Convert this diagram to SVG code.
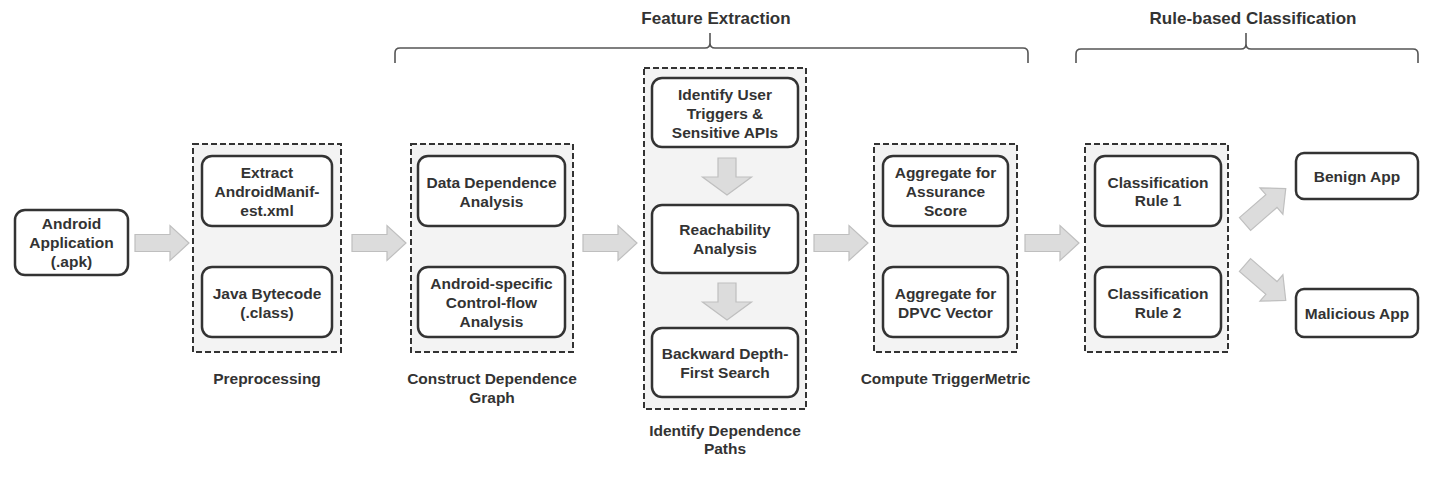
<svg xmlns="http://www.w3.org/2000/svg" width="1447" height="490" viewBox="0 0 1447 490">
<defs>
<style>
.grp{fill:#f3f3f3;stroke:#333;stroke-width:2;stroke-dasharray:6 3}
.box{fill:#fff;stroke:#333;stroke-width:2.5}
.t{font-family:"Liberation Sans",Arial,sans-serif;font-weight:bold;font-size:15.5px;fill:#333;text-anchor:middle}
.h{font-family:"Liberation Sans",Arial,sans-serif;font-weight:bold;font-size:17px;fill:#333;text-anchor:middle}
.arr{fill:#dcdcdc;stroke:#bfbfbf;stroke-width:1.2}
.brace{fill:none;stroke:#555;stroke-width:1.6}
</style>
<polygon id="ha" points="0,-8.5 35,-8.5 35,-17.5 54,0 35,17.5 35,8.5 0,8.5"/>
<polygon id="va" points="-9,0 9,0 9,19 24.5,19 0,37 -24.5,19 -9,19"/>
</defs>
<rect width="1447" height="490" fill="#fff"/>

<g id="headers">
<text class="h" x="716" y="24">Feature Extraction</text>
<path class="brace" d="M395,63 V53 Q395,48 400,48 H705 Q710,48 710,43 V33 M710,33 V43 Q710,48 715,48 H1023 Q1028,48 1028,53 V63"/>
<text class="h" x="1253" y="24">Rule-based Classification</text>
<path class="brace" d="M1076,63 V54 Q1076,49 1081,49 H1241 Q1246,49 1246,44 V33 M1246,33 V44 Q1246,49 1251,49 H1413 Q1418,49 1418,54 V63"/>
</g>

<g id="groups">
<rect class="grp" x="193" y="144" width="148" height="208"/>
<rect class="grp" x="411" y="144" width="162" height="208"/>
<rect class="grp" x="644" y="68" width="162" height="341"/>
<rect class="grp" x="874" y="144" width="143" height="208"/>
<rect class="grp" x="1085" y="144" width="143" height="208"/>
</g>

<g id="connectors">
<use href="#ha" class="arr" x="135" y="243"/>
<use href="#ha" class="arr" x="352" y="243"/>
<use href="#ha" class="arr" x="583" y="243"/>
<use href="#ha" class="arr" x="814" y="243"/>
<use href="#ha" class="arr" x="1025" y="243"/>
<use href="#va" class="arr" x="727" y="158"/>
<use href="#va" class="arr" x="727" y="283"/>
<use href="#ha" class="arr" transform="translate(1245,224) rotate(-41)"/>
<use href="#ha" class="arr" transform="translate(1245,265) rotate(41)"/>
</g>

<g id="android-app">
<rect class="box" x="15" y="210" width="113" height="65" rx="10"/>
<text class="t" x="71.5" y="229">Android</text>
<text class="t" x="71.5" y="248">Application</text>
<text class="t" x="71.5" y="267">(.apk)</text>
</g>

<g id="extract-manifest">
<rect class="box" x="202" y="156" width="130" height="70" rx="10"/>
<text class="t" x="267" y="177.5">Extract</text>
<text class="t" x="267" y="196.5">AndroidManif-</text>
<text class="t" x="267" y="215.5">est.xml</text>
</g>
<g id="java-bytecode">
<rect class="box" x="202" y="267" width="130" height="70" rx="10"/>
<text class="t" x="267" y="299">Java Bytecode</text>
<text class="t" x="267" y="318">(.class)</text>
</g>
<g id="label-preprocessing">
<text class="t" x="267" y="383.5">Preprocessing</text>
</g>

<g id="data-dependence">
<rect class="box" x="418" y="156" width="147" height="70" rx="10"/>
<text class="t" x="491.5" y="187.5">Data Dependence</text>
<text class="t" x="491.5" y="206.5">Analysis</text>
</g>
<g id="control-flow">
<rect class="box" x="418" y="267" width="147" height="70" rx="10"/>
<text class="t" x="491.5" y="289">Android-specific</text>
<text class="t" x="491.5" y="308">Control-flow</text>
<text class="t" x="491.5" y="327">Analysis</text>
</g>
<g id="label-construct">
<text class="t" x="492" y="383.5">Construct Dependence</text>
<text class="t" x="492" y="402.5">Graph</text>
</g>

<g id="identify-triggers">
<rect class="box" x="652" y="78" width="146" height="69" rx="10"/>
<text class="t" x="725" y="99.5">Identify User</text>
<text class="t" x="725" y="118.5">Triggers &amp;</text>
<text class="t" x="725" y="137.5">Sensitive APIs</text>
</g>
<g id="reachability">
<rect class="box" x="652" y="205" width="146" height="68" rx="10"/>
<text class="t" x="725" y="235">Reachability</text>
<text class="t" x="725" y="254">Analysis</text>
</g>
<g id="backward-dfs">
<rect class="box" x="652" y="328" width="146" height="69" rx="10"/>
<text class="t" x="725" y="359">Backward Depth-</text>
<text class="t" x="725" y="378">First Search</text>
</g>
<g id="label-identify">
<text class="t" x="725" y="435.5">Identify Dependence</text>
<text class="t" x="725" y="453.5">Paths</text>
</g>

<g id="aggregate-assurance">
<rect class="box" x="883" y="156" width="125" height="70" rx="10"/>
<text class="t" x="945.5" y="177.5">Aggregate for</text>
<text class="t" x="945.5" y="196.5">Assurance</text>
<text class="t" x="945.5" y="215.5">Score</text>
</g>
<g id="aggregate-dpvc">
<rect class="box" x="883" y="267" width="125" height="70" rx="10"/>
<text class="t" x="945.5" y="299">Aggregate for</text>
<text class="t" x="945.5" y="318">DPVC Vector</text>
</g>
<g id="label-compute">
<text class="t" x="945.5" y="383.5">Compute TriggerMetric</text>
</g>

<g id="rule-1">
<rect class="box" x="1095" y="156" width="126" height="70" rx="10"/>
<text class="t" x="1158" y="187.5">Classification</text>
<text class="t" x="1158" y="206">Rule 1</text>
</g>
<g id="rule-2">
<rect class="box" x="1095" y="267" width="126" height="70" rx="10"/>
<text class="t" x="1158" y="298.5">Classification</text>
<text class="t" x="1158" y="318">Rule 2</text>
</g>

<g id="benign-app">
<rect class="box" x="1296" y="153" width="122" height="46" rx="8"/>
<text class="t" x="1357" y="181.5">Benign App</text>
</g>
<g id="malicious-app">
<rect class="box" x="1296" y="289" width="122" height="48" rx="8"/>
<text class="t" x="1357" y="318.5">Malicious App</text>
</g>
</svg>
